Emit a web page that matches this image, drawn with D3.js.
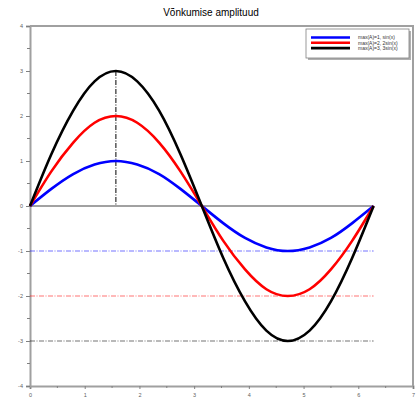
<!DOCTYPE html>
<html lang="et">
<head>
<meta charset="UTF-8">
<title>Võnkumise amplituud</title>
<script src="https://cdnjs.cloudflare.com/ajax/libs/d3/7.8.5/d3.min.js"></script>
<style>
  body { margin: 0; background: #fff; }
  svg { display: block; font-family: "Liberation Sans", Arial, sans-serif; }
</style>
</head>
<body>
<svg id="main" width="419" height="398"></svg>
<script>
// sample points along x (0 .. 2*pi)
const xValues = [0, 0.39, 0.79, 1.18, 1.57, 1.96, 2.36, 2.75, 3.14, 3.53, 3.93, 4.32, 4.71, 5.11, 5.50, 5.89, 6.28];
const amp1 = [0, 0.38, 0.71, 0.92, 1, 0.92, 0.71, 0.38, 0, -0.38, -0.71, -0.92, -1, -0.92, -0.71, -0.38, 0];
const amp2 = [0, 0.77, 1.41, 1.85, 2, 1.85, 1.41, 0.77, 0, -0.77, -1.41, -1.85, -2, -1.85, -1.41, -0.77, 0];
const amp3 = [0, 1.15, 2.12, 2.77, 3, 2.77, 2.12, 1.15, 0, -1.15, -2.12, -2.77, -3, -2.77, -2.12, -1.15, 0];
const seriesNames = ['max(A)=1, sin(x)', 'max(A)=2, 2sin(x)', 'max(A)=3, 3sin(x)'];
const seriesColors = ['#0000ff', '#ff0000', '#000000'];
const minLevels = [-1, -2, -3];
const peakX = 1.57, peakY = 3;
const xTicks = [0, 1, 2, 3, 4, 5, 6, 7];
const yTicks = [-4, -3, -2, -1, 0, 1, 2, 3, 4];
const title = 'Võnkumise amplituud';

const svg = d3.select('#main');
const x = d3.scaleLinear().domain([0, 7]).range([30, 413]);
const y = d3.scaleLinear().domain([-4, 4]).range([386, 26]);

svg.append('text')
    .attr('x', 211).attr('y', 16)
    .attr('text-anchor', 'middle')
    .attr('font-size', 10)
    .text(title);

// axes
const axisColor = '#a0a0a0';
const xAxis = svg.append('g').attr('transform', `translate(0,${y(-4)})`)
    .call(d3.axisBottom(x).tickValues(xTicks).tickSize(3).tickFormat(d3.format('d')));
const yAxis = svg.append('g').attr('transform', `translate(${x(0)},0)`)
    .call(d3.axisLeft(y).tickValues(yTicks).tickSize(4).tickFormat(d => d < 0 ? '-' + (-d) : d));
[xAxis, yAxis].forEach(a => {
    a.select('.domain').attr('stroke', axisColor).attr('stroke-width', 2);
    a.selectAll('.tick line').attr('stroke', '#808080');
    a.selectAll('.tick text').attr('fill', '#606060').attr('font-size', 5.5);
});
xAxis.selectAll('.tick text').attr('dy', '0.9em');
// minor ticks
svg.append('g').selectAll('line').data(d3.range(0.5, 7, 1)).join('line')
    .attr('x1', d => x(d)).attr('x2', d => x(d))
    .attr('y1', y(-4)).attr('y2', y(-4) + 2).attr('stroke', '#808080');
svg.append('g').selectAll('line').data(d3.range(-3.5, 4, 1)).join('line')
    .attr('x1', x(0) - 3).attr('x2', x(0))
    .attr('y1', d => y(d)).attr('y2', d => y(d)).attr('stroke', '#808080');
// frame top and right
svg.append('path')
    .attr('d', `M${x(0)},${y(4)}H${x(7)}V${y(-4)}`)
    .attr('fill', 'none').attr('stroke', axisColor).attr('stroke-width', 2);

// zero line
svg.append('line')
    .attr('x1', x(0)).attr('x2', x(6.28))
    .attr('y1', y(0)).attr('y2', y(0))
    .attr('stroke', '#444').attr('stroke-width', 1);

// dash-dot guide lines
svg.append('g').selectAll('line').data(minLevels).join('line')
    .attr('x1', x(0)).attr('x2', x(6.28))
    .attr('y1', d => y(d)).attr('y2', d => y(d))
    .attr('stroke', (d, i) => seriesColors[i])
    .attr('stroke-opacity', 0.55)
    .attr('stroke-width', 1)
    .attr('stroke-dasharray', '5,1.5,1,1.5');
svg.append('line')
    .attr('x1', x(peakX)).attr('x2', x(peakX))
    .attr('y1', y(peakY)).attr('y2', y(0))
    .attr('stroke', '#000').attr('stroke-width', 1)
    .attr('stroke-dasharray', '5,1.5,1,1.5');

// curves
const series = [amp1, amp2, amp3];
const line = d3.line()
    .x((d, i) => x(xValues[i]))
    .y(d => y(d))
    .curve(d3.curveNatural);
svg.append('g').selectAll('path').data(series).join('path')
    .attr('d', line)
    .attr('fill', 'none')
    .attr('stroke', (d, i) => seriesColors[i])
    .attr('stroke-width', 2.6);

// legend
const lg = svg.append('g');
lg.append('rect').attr('x', 308).attr('y', 31).attr('width', 103).attr('height', 29).attr('fill', '#b0b0b0');
lg.append('rect').attr('x', 306).attr('y', 29).attr('width', 103).attr('height', 29)
    .attr('fill', '#fff').attr('stroke', '#808080').attr('stroke-width', 0.8);
seriesNames.forEach((name, i) => {
    const yy = 37.5 + i * 5.3;
    lg.append('line').attr('x1', 311).attr('x2', 350).attr('y1', yy).attr('y2', yy)
        .attr('stroke', seriesColors[i]).attr('stroke-width', 2.6);
    lg.append('text').attr('x', 358).attr('y', yy + 1.7)
        .attr('font-size', 5).attr('fill', '#333').text(name);
});
</script>
</body>
</html>
